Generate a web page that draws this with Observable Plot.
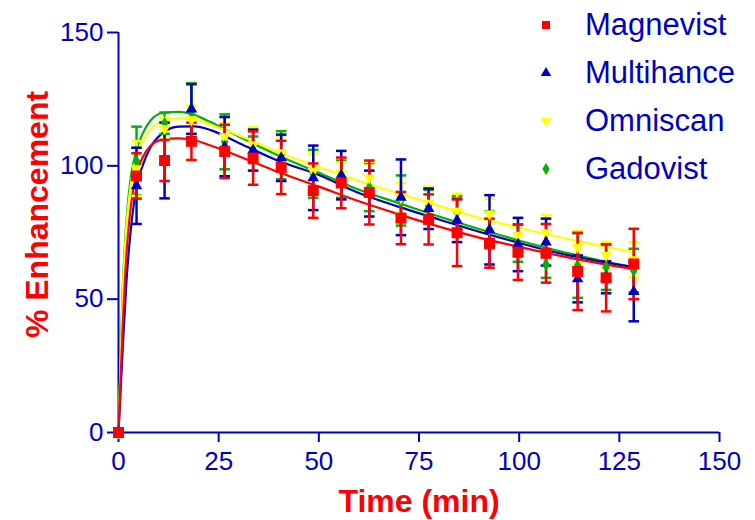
<!DOCTYPE html>
<html>
<head>
<meta charset="utf-8">
<script src="https://cdn.jsdelivr.net/npm/d3@7"></script>
<script src="https://cdn.jsdelivr.net/npm/@observablehq/plot@0.6"></script>
<style>
  body { margin: 0; background: #fff; }
  #wrap { position: relative; width: 755px; height: 520px; overflow: hidden; }
  #legend { position: absolute; left: 0; top: 0; font-family: "Liberation Sans", Arial, sans-serif; color: #0000c0; font-size: 31px; }
  .item { position: absolute; left: 530px; height: 40px; display: flex; align-items: center; white-space: nowrap; }
  .item svg { width: 32px; height: 32px; margin-right: 23px; }
</style>
</head>
<body>
<div id="wrap"><div id="legend"></div></div>
<script>
// ---------- data ----------
const seriesNames = ["Magnevist", "Multihance", "Omniscan", "Gadovist"];
const seriesColors = ["#ff0000", "#0000c0", "#ffff00", "#00b400"];
const xTicks = [0, 25, 50, 75, 100, 125, 150];
const yTicks = [0, 50, 100, 150];

const times = [0, 4.5, 11.5, 18.2, 26.5, 33.6, 40.6, 48.6, 55.6, 62.6, 70.5, 77.4, 84.5, 92.6, 99.7, 106.7, 114.6, 121.7, 128.6];

const magnevistMean = [0, 96.2, 102, 109.2, 105.4, 102.9, 99.4, 90.7, 93.6, 90, 80.4, 79.9, 74.9, 71, 67.6, 67.2, 60.4, 58, 63.2];
const magnevistErr  = [0, 8.5, 7.7, 7, 10, 10, 10, 10.2, 9.5, 12, 9.8, 9.4, 12.5, 9.2, 10.4, 11, 14.5, 12.6, 13.2];

const multihanceMean = [0, 92.5, 102, 121.3, 107.2, 105.9, 103, 95.5, 96.5, 89.6, 88.2, 83.9, 79.5, 76, 70.5, 71.4, 57.6, 58.2, 52.8];
const multihanceErr  = [0, 14.3, 14.2, 9.3, 11.1, 7.7, 8.7, 12.1, 9.1, 8.6, 14.2, 7.6, 8.1, 13, 10, 8.8, 8.8, 6, 11.1];

const omniscanMean = [0, 99, 114, 117.3, 111, 108, 105, 98, 97.3, 95.5, 88, 86, 83, 82, 74, 75, 69.5, 66.5, 64.8];
const omniscanErr  = [0, 10.3, 4, 5.3, 5, 6.5, 6, 6.5, 4, 6, 5.5, 6.2, 6.5, 5.6, 6, 6.6, 6, 5, 6.6];

const gadovistMean = [0, 101.8, 116, 120, 109, 106, 104, 97, 95, 92, 87, 85, 82.6, 76, 71, 63, 62.6, 62, 60.7];
const gadovistErr  = [0, 12.9, 4, 11, 10.3, 5, 9, 9, 7, 9, 9.4, 6, 6, 7, 7, 5, 12.1, 8.5, 8.2];

// fitted curves
const curveTimes = [0, 1, 2, 3, 4.5, 6, 8, 11, 15, 19, 23, 30, 40, 50, 60, 70, 80, 90, 100, 110, 120, 128.6];
const magnevistCurve  = [0, 38, 67, 84, 97, 103, 107.5, 109.8, 110.3, 109.6, 107.6, 103.6, 97.6, 92.2, 86.7, 81.8, 77.2, 73.1, 69.6, 66.3, 63.4, 61.3];
const multihanceCurve = [0, 30, 57, 75, 92, 100, 107, 112.3, 114.7, 114.8, 113.4, 108.6, 101.8, 96.6, 89.8, 84.6, 79.9, 75.3, 71.1, 67.2, 64.2, 62.1];
const omniscanCurve   = [0, 50, 78, 92, 104, 109, 113.5, 116.8, 117.8, 117.4, 115.4, 111.5, 105, 99.6, 94.4, 89.6, 85, 80.5, 76.8, 73.3, 70.2, 67.6];
const gadovistCurve   = [0, 52, 80, 95, 106, 112, 117, 119.8, 120.2, 119, 116.4, 111, 103.8, 97.4, 91, 86, 81, 76.3, 72, 68, 64.6, 61.8];

// ---------- build tables ----------
const means = [magnevistMean, multihanceMean, omniscanMean, gadovistMean];
const errs = [magnevistErr, multihanceErr, omniscanErr, gadovistErr];
const curves = [magnevistCurve, multihanceCurve, omniscanCurve, gadovistCurve];

const points = seriesNames.map((s, i) => times.map((t, j) => ({series: s, t, m: means[i][j], e: errs[i][j]})));
const curveData = seriesNames.map((s, i) => curveTimes.map((t, j) => ({series: s, t, v: curves[i][j]})));

// symbols
const sqrt3 = Math.sqrt(3);
const triDown = {
  draw(ctx, size) {
    const y = Math.sqrt(size / (sqrt3 * 3));
    ctx.moveTo(0, y * 2);
    ctx.lineTo(-sqrt3 * y, -y);
    ctx.lineTo(sqrt3 * y, -y);
    ctx.closePath();
  }
};
const capSym = {
  draw(ctx, size) {
    const r = Math.sqrt(size / Math.PI);
    ctx.moveTo(-r, 0);
    ctx.lineTo(r, 0);
  }
};
const markerSym = ["square", "triangle", triDown, "diamond"];
const markerR = [6.2, 4.3, 4.3, 3.9];

// draw order: green, yellow, blue, red (red on top)
const order = [3, 2, 1, 0];

const marks = [];
for (const i of order) {
  marks.push(Plot.line(curveData[i], {x: "t", y: "v", stroke: seriesColors[i], strokeWidth: 2.2, curve: "monotone-x"}));
}
for (const i of order) {
  const d = points[i].filter(p => p.e > 0);
  marks.push(Plot.ruleX(d, {x: "t", y1: p => p.m - p.e, y2: p => p.m + p.e, stroke: seriesColors[i], strokeWidth: 2.5}));
  marks.push(Plot.dot(d, {x: "t", y: p => p.m + p.e, symbol: capSym, r: 5.3, stroke: seriesColors[i], strokeWidth: 2.5, fill: "none"}));
  marks.push(Plot.dot(d, {x: "t", y: p => p.m - p.e, symbol: capSym, r: 5.3, stroke: seriesColors[i], strokeWidth: 2.5, fill: "none"}));
}
for (const i of order) {
  marks.push(Plot.dot(points[i], {x: "t", y: "m", symbol: markerSym[i], r: markerR[i], fill: seriesColors[i], stroke: "none"}));
}

const blue = "#0000c0";
const plot = Plot.plot({
  width: 755,
  height: 520,
  marginLeft: 118,
  marginRight: 36,
  marginTop: 32,
  marginBottom: 88,
  x: {domain: [0, 150]},
  y: {domain: [0, 150]},
  style: {fontFamily: "'Liberation Sans', Arial, sans-serif", background: "white", overflow: "visible"},
  marks: [
    Plot.axisX({ticks: xTicks, tickSize: 10, tickPadding: 9, fontSize: 26, color: blue, strokeWidth: 2, label: null}),
    Plot.axisY({ticks: yTicks, tickSize: 11, tickPadding: 4, fontSize: 26, color: blue, strokeWidth: 2, label: null}),
    Plot.ruleY([0], {stroke: blue, strokeWidth: 2}),
    Plot.ruleX([0], {stroke: blue, strokeWidth: 2}),
    ...marks,
    Plot.text(["% Enhancement"], {frameAnchor: "left", rotate: -90, dx: -81, dy: -18, fontSize: 32, fontWeight: "bold", fill: "#ff0000", textAnchor: "middle", lineAnchor: "middle"}),
    Plot.text(["Time (min)"], {frameAnchor: "bottom", dy: 69, fontSize: 32, fontWeight: "bold", fill: "#ff0000", textAnchor: "middle", lineAnchor: "middle"})
  ]
});
document.getElementById("wrap").prepend(plot);

// legend (HTML overlay)
const legend = document.getElementById("legend");
const legendSymbols = [d3.symbolSquare, d3.symbolTriangle, triDown, d3.symbolDiamond];
const legendSize = [64, 48, 48, 44];
seriesNames.forEach((name, i) => {
  const item = document.createElement("div");
  item.className = "item";
  item.style.top = (5 + i * 48) + "px";
  const path = d3.symbol(legendSymbols[i], legendSize[i])();
  item.innerHTML = `<svg viewBox="-16 -16 32 32"><path d="${path}" fill="${seriesColors[i]}"/></svg><span>${name}</span>`;
  legend.appendChild(item);
});
</script>
</body>
</html>
